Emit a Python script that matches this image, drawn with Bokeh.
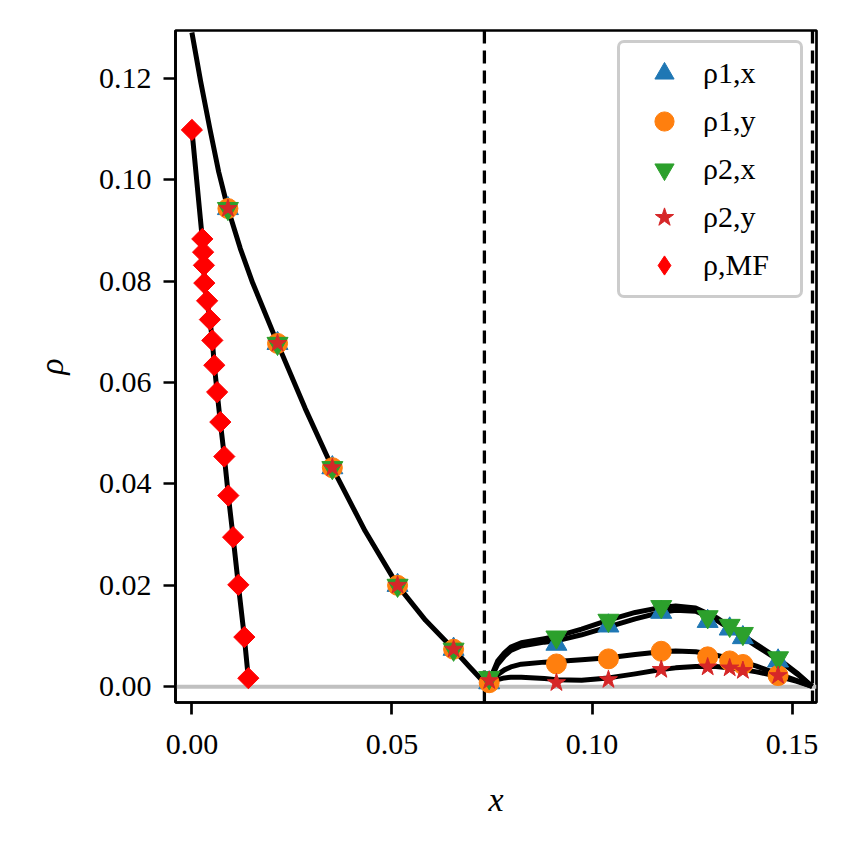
import math
from bokeh.plotting import figure
from bokeh.models import Range1d, Span, Legend, LegendItem, FixedTicker, NumeralTickFormatter
from bokeh.embed import file_html
from bokeh.resources import INLINE

# ---------------- data ----------------
x_ticks = [0.0, 0.05, 0.10, 0.15]
x_tick_labels = ["0.00", "0.05", "0.10", "0.15"]
y_ticks = [0.0, 0.02, 0.04, 0.06, 0.08, 0.10, 0.12]
y_tick_labels = ["0.00", "0.02", "0.04", "0.06", "0.08", "0.10", "0.12"]

x_boundaries = [0.0731, 0.1551]

# simulation points
x_sim = [0.0090, 0.0214, 0.0351, 0.0514, 0.0654, 0.0743, 0.0911, 0.1041, 0.1173, 0.1289, 0.1344, 0.1377, 0.1465]
rho1x = [0.0943, 0.0677, 0.0432, 0.0200, 0.0074, 0.0008, 0.0084, 0.0120, 0.0147, 0.0129, 0.0114, 0.0097, 0.0051]
rho1y = [0.0943, 0.0677, 0.0432, 0.0200, 0.0074, 0.0008, 0.0045, 0.0055, 0.0070, 0.0059, 0.0051, 0.0044, 0.0022]
rho2x = [0.0943, 0.0677, 0.0432, 0.0200, 0.0074, 0.0018, 0.0098, 0.0131, 0.0158, 0.0138, 0.0121, 0.0105, 0.0057]
rho2y = [0.0943, 0.0677, 0.0432, 0.0200, 0.0074, 0.0012, 0.0008, 0.0014, 0.0034, 0.0039, 0.0037, 0.0032, 0.0022]

# mean-field points
x_mf = [0.0, 0.0026, 0.0028, 0.0030, 0.0031, 0.0038, 0.0045, 0.0051, 0.0056, 0.0063,
        0.0071, 0.0081, 0.0091, 0.0103, 0.0116, 0.0131, 0.0141]
rho_mf = [0.1098, 0.0883, 0.0857, 0.0831, 0.0796, 0.0761, 0.0724, 0.0683, 0.0634, 0.0581,
          0.0522, 0.0454, 0.0377, 0.0295, 0.0201, 0.0098, 0.0017]

# theory curves
x_th_left = [0.0, 0.0022, 0.0045, 0.0067, 0.0090, 0.0121, 0.0152, 0.0214, 0.0283, 0.0351,
             0.0433, 0.0514, 0.0584, 0.0654, 0.0693, 0.0731]
rho_th_left = [0.1290, 0.1193, 0.1100, 0.1015, 0.0943, 0.0864, 0.0796, 0.0677, 0.0549, 0.0432,
               0.0307, 0.0200, 0.0131, 0.0074, 0.0040, 0.0008]

x_th_right = [0.0743, 0.0764, 0.0781, 0.0797, 0.0823, 0.0881, 0.0911, 0.0974, 0.1041, 0.1108,
              0.1173, 0.1209, 0.1259, 0.1310, 0.1360, 0.1411, 0.1465, 0.1512, 0.1550]
th_rho2x = [0.00108, 0.00506, 0.00671, 0.00784, 0.00869, 0.00949, 0.00995, 0.01135, 0.01314, 0.01466,
            0.01565, 0.01592, 0.01552, 0.01367, 0.01101, 0.00837, 0.00558, 0.00274, 0.00008]
th_rho1x = [0.00095, 0.00439, 0.00605, 0.00717, 0.00803, 0.00880, 0.00905, 0.01025, 0.01180, 0.01340,
            0.01470, 0.01510, 0.01490, 0.01320, 0.01068, 0.00803, 0.00532, 0.00254, 0.00008]
th_rho1y = [0.00075, 0.00240, 0.00333, 0.00392, 0.00446, 0.00486, 0.00499, 0.00532, 0.00571, 0.00638,
            0.00691, 0.00704, 0.00691, 0.00625, 0.00532, 0.00406, 0.00254, 0.00121, 0.00008]
th_rho2y = [0.00075, 0.00141, 0.00175, 0.00188, 0.00188, 0.00161, 0.00141, 0.00128, 0.00175, 0.00254,
            0.00341, 0.00373, 0.00400, 0.00400, 0.00360, 0.00294, 0.00208, 0.00108, 0.00008]

legend_labels = ["ρ1,x", "ρ1,y", "ρ2,x", "ρ2,y", "ρ,MF"]

# ---------------- figure ----------------
FONT = "Liberation Serif"
p = figure(width=836, height=836, output_backend="svg", toolbar_location=None,
           x_range=Range1d(-0.0041, 0.1561), y_range=Range1d(-0.0031, 0.1294),
           min_border_left=175, min_border_top=30, min_border_right=20, min_border_bottom=134)
p.grid.visible = False
p.background_fill_color = "white"
p.border_fill_color = "white"
p.outline_line_color = "black"
p.outline_line_width = 2.7

for ax, ticks, labels in ((p.xaxis, x_ticks, x_tick_labels), (p.yaxis, y_ticks, y_tick_labels)):
    ax.ticker = FixedTicker(ticks=ticks)
    ax.formatter = NumeralTickFormatter(format="0.00")
    ax.major_label_overrides = {t: l for t, l in zip(ticks, labels)}
    ax.minor_tick_line_color = None
    ax.major_tick_in = 0
    ax.major_tick_out = 12
    ax.major_tick_line_width = 2.7
    ax.axis_line_width = 2.7
    ax.major_label_text_font = FONT
    ax.major_label_text_font_size = "30px"
    ax.major_label_text_color = "black"
    ax.axis_label_text_font = FONT
    ax.axis_label_text_font_size = "34px"
    ax.axis_label_text_font_style = "italic"
    ax.axis_label_text_color = "black"
p.xaxis.major_label_standoff = 20
p.yaxis.major_label_standoff = 12
p.xaxis.axis_label_standoff = 24
p.yaxis.axis_label_standoff = 26
p.xaxis.axis_label = "x"
p.yaxis.axis_label = "ρ"

# reference lines
p.add_layout(Span(location=0, dimension="width", line_color="#c0c0c0", line_width=4, level="underlay"))
for xb in x_boundaries:
    p.add_layout(Span(location=xb, dimension="height", line_color="black", line_width=3.3,
                      line_dash="13 7", level="underlay"))

# theory lines
p.line(x_th_left, rho_th_left, line_color="black", line_width=5, line_join="round")
p.line(x_mf, rho_mf, line_color="black", line_width=5, line_join="round")
for yy in (th_rho2x, th_rho1x, th_rho1y, th_rho2y):
    p.line(x_th_right, yy, line_color="black", line_width=5, line_join="round")

# markers
r_b = p.scatter(x_sim, rho1x, marker="triangle", size=21, color="#1f77b4")
r_o = p.scatter(x_sim, rho1y, marker="circle", size=20, color="#ff7f0e")
r_g = p.scatter(x_sim, rho2x, marker="inverted_triangle", size=21, color="#2ca02c")
r_s = p.scatter(x_sim, rho2y, marker="star", size=19, color="#d62728")
r_d = p.scatter(x_mf, rho_mf, marker="square", angle=math.pi / 4, size=15, color="#ff0000")
# legend swatch for the mean-field series (legend markers are drawn unrotated)
r_d_key = p.scatter(x_mf, rho_mf, marker="diamond", size=15, color="#ff0000", visible=False)

items = [LegendItem(label=lab, renderers=[r]) for lab, r in zip(legend_labels, [r_b, r_o, r_g, r_s, r_d_key])]
legend = Legend(items=items, location=(442, 404), margin=0, padding=6,
                glyph_height=48, glyph_width=76, spacing=0, label_standoff=1,
                label_width=91, label_height=20, click_policy="none",
                label_text_font=FONT, label_text_font_size="30px", label_text_color="black",
                border_line_color="#cccccc", border_line_width=3, border_line_alpha=1.0,
                background_fill_color="white", background_fill_alpha=0.8)
if "border_radius" in Legend.properties():
    legend.border_radius = 7
p.add_layout(legend)

open("out.html", "w").write(file_html(p, INLINE))
